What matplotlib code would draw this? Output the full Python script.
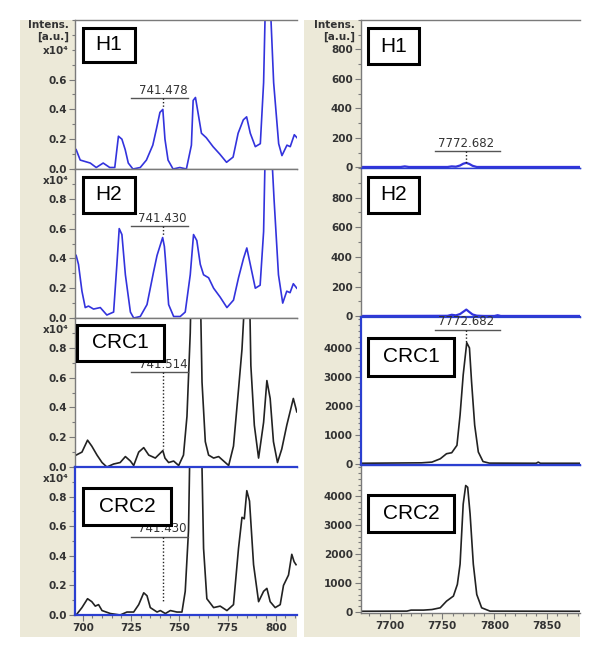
import numpy as np
import matplotlib
matplotlib.use("Agg")
import matplotlib.pyplot as plt
from matplotlib.patches import Rectangle
from matplotlib.ticker import MultipleLocator, FormatStrFormatter

# ---- left column: m/z 700-810, intensity x10^4 ----
h1_mz = [696.6, 698.7, 703.9, 707.0, 710.6, 714.0, 716.6, 718.5, 720.3, 722.0,
         723.6, 726.0, 729.8, 733.0, 736.3, 738.2, 740.0, 741.5, 742.6, 744.2,
         746.8, 750.3, 753.7, 756.3, 757.2, 758.4, 759.7, 761.5, 764.0, 767.5,
         771.0, 774.5, 777.9, 780.5, 783.2, 784.9, 786.8, 789.4, 792.0, 793.7,
         794.6, 795.8, 797.2, 798.9, 801.5, 803.2, 805.8, 807.5, 809.6, 811.0]
h1_int = [0.13, 0.06, 0.04, 0.01, 0.04, 0.01, 0.01, 0.22, 0.20, 0.13,
          0.04, 0.00, 0.01, 0.06, 0.16, 0.27, 0.38, 0.40, 0.20, 0.06,
          0.00, 0.01, 0.00, 0.16, 0.46, 0.48, 0.38, 0.24, 0.21, 0.15,
          0.10, 0.045, 0.08, 0.24, 0.33, 0.35, 0.24, 0.15, 0.17, 0.58,
          1.10, 1.30, 1.10, 0.58, 0.17, 0.09, 0.16, 0.15, 0.23, 0.21]

h2_mz = [696.6, 697.8, 699.6, 701.3, 703.0, 705.6, 709.1, 712.5, 716.0, 717.7,
         718.9, 720.3, 722.1, 724.7, 726.4, 729.8, 733.3, 736.7, 738.5, 741.4,
         742.3, 742.8, 744.5, 747.1, 750.5, 753.1, 755.7, 757.4, 759.1, 760.9,
         762.6, 765.2, 767.8, 771.2, 774.7, 778.1, 780.7, 783.3, 785.0, 786.8,
         789.4, 791.9, 793.7, 794.5, 796.2, 797.9, 799.1, 801.4, 803.6, 805.7,
         807.4, 809.1, 810.9]
h2_int = [0.42, 0.36, 0.18, 0.07, 0.08, 0.06, 0.07, 0.02, 0.04, 0.36,
          0.60, 0.56, 0.29, 0.04, 0.00, 0.01, 0.09, 0.31, 0.42, 0.54,
          0.48, 0.40, 0.09, 0.01, 0.01, 0.04, 0.29, 0.56, 0.52, 0.36,
          0.29, 0.27, 0.20, 0.14, 0.07, 0.12, 0.27, 0.40, 0.47, 0.36,
          0.20, 0.22, 0.58, 1.10, 1.30, 1.10, 0.80, 0.29, 0.10, 0.18,
          0.17, 0.23, 0.20]

crc1_mz = [696.6, 699.6, 702.5, 704.7, 707.4, 710.0, 712.5, 716.0, 719.4, 722.1,
           724.7, 726.4, 729.0, 731.6, 734.2, 737.6, 741.5, 742.6, 744.5, 747.1,
           749.7, 752.2, 754.0, 755.7, 757.1, 758.8, 760.5, 761.8, 763.5, 765.2,
           767.8, 770.4, 773.0, 775.6, 778.1, 780.7, 782.5, 784.2, 785.4, 786.4,
           787.1, 788.9, 791.1, 793.7, 795.4, 797.1, 798.8, 800.9, 803.1, 805.7,
           807.4, 809.1, 810.9]
crc1_int = [0.08, 0.10, 0.18, 0.14, 0.08, 0.03, 0.00, 0.02, 0.03, 0.07,
            0.04, 0.01, 0.10, 0.13, 0.08, 0.06, 0.11, 0.06, 0.03, 0.04,
            0.01, 0.08, 0.34, 0.90, 1.80, 2.00, 1.50, 0.57, 0.17, 0.08,
            0.06, 0.07, 0.04, 0.01, 0.14, 0.52, 0.79, 1.20, 1.40, 1.20,
            0.68, 0.28, 0.06, 0.30, 0.58, 0.46, 0.17, 0.03, 0.12, 0.28,
            0.37, 0.46, 0.37]

crc2_mz = [696.6, 699.6, 702.5, 704.7, 706.5, 708.2, 710.0, 714.3, 719.4, 722.9,
           726.4, 729.0, 731.6, 733.3, 735.0, 738.5, 740.2, 742.8, 745.4, 748.8,
           751.4, 753.1, 754.8, 756.0, 758.3, 760.9, 762.6, 764.3, 767.8, 771.2,
           774.7, 778.1, 780.7, 782.5, 783.7, 785.0, 786.4, 788.5, 791.1, 793.7,
           795.4, 797.1, 799.7, 802.3, 804.0, 806.6, 808.3, 809.5, 810.5]
crc2_int = [0.00, 0.05, 0.11, 0.09, 0.06, 0.07, 0.03, 0.01, 0.00, 0.02,
            0.02, 0.07, 0.15, 0.13, 0.05, 0.02, 0.03, 0.01, 0.03, 0.02,
            0.02, 0.16, 0.57, 1.50, 2.20, 1.60, 0.45, 0.11, 0.05, 0.06,
            0.03, 0.07, 0.45, 0.66, 0.65, 0.84, 0.77, 0.34, 0.09, 0.16,
            0.18, 0.09, 0.05, 0.07, 0.20, 0.27, 0.41, 0.36, 0.34]

# ---- right column: m/z 7672-7882, intensity a.u. ----
rh1_mz = [7672, 7710, 7714, 7718, 7755, 7759, 7763, 7767, 7770, 7773, 7776, 7779, 7783, 7882]
rh1_int = [2, 2, 6, 2, 2, 6, 4, 12, 24, 30, 22, 10, 2, 2]

rh2_mz = [7672, 7755, 7759, 7763, 7767, 7770, 7773, 7776, 7779, 7783, 7790, 7800, 7803, 7806, 7882]
rh2_int = [2, 3, 10, 6, 15, 30, 45, 28, 12, 4, 2, 2, 7, 2, 2]

rcrc1_mz = [7672, 7730, 7740, 7748, 7754, 7759, 7764, 7767, 7770, 7773.4,
            7776, 7778, 7781, 7784.5, 7789, 7795, 7840, 7842, 7844, 7882]
rcrc1_int = [20, 35, 60, 175, 350, 385, 640, 1690, 3080, 4190,
             4010, 2850, 1340, 410, 80, 25, 20, 60, 20, 20]

rcrc2_mz = [7672, 7716, 7720, 7732, 7740, 7748, 7754, 7760.6, 7764.4, 7767,
            7770, 7772.4, 7774.3, 7776.6, 7779.7, 7783, 7787.7, 7795.7, 7882]
rcrc2_int = [20, 25, 60, 60, 80, 140, 370, 545, 950, 1650,
             3730, 4370, 4310, 3390, 1650, 600, 140, 25, 20]

names = ["H1", "H2", "CRC1", "CRC2"]

W, H = 600, 657
BEIGE = "#ECE9D8"
BLUE = "#3333DD"
SEL = "#2B3FD0"
DARK = "#222222"
GRAY = "#7A7A7A"
TXT = "#333333"


def fx(px):
    return px / W


def fy(py):
    return 1 - py / H


def px_rect(x0, y0, x1, y1):
    return [fx(x0), fy(y1), (x1 - x0) / W, (y1 - y0) / H]


fig = plt.figure(figsize=(W / 100, H / 100), dpi=100)
fig.patch.set_facecolor("white")

# beige panels behind the plots
for (x0, x1) in [(20, 297), (304, 580)]:
    fig.add_artist(Rectangle((fx(x0), fy(637)), (x1 - x0) / W, (637 - 20) / H,
                             transform=fig.transFigure, facecolor=BEIGE,
                             edgecolor="none", zorder=-5))

left_rows = [(20, 169), (169, 318), (318, 467), (467, 615)]
right_rows = [(20, 168), (168, 317), (317, 465), (465, 613)]

left_data = [(h1_mz, h1_int), (h2_mz, h2_int), (crc1_mz, crc1_int), (crc2_mz, crc2_int)]
right_data = [(rh1_mz, rh1_int), (rh2_mz, rh2_int), (rcrc1_mz, rcrc1_int), (rcrc2_mz, rcrc2_int)]


def style_axes(ax):
    ax.set_facecolor("white")
    ax.spines["right"].set_visible(False)
    for s in ["left", "top", "bottom"]:
        ax.spines[s].set_color(GRAY)
        ax.spines[s].set_linewidth(1.0)
    ax.tick_params(axis="both", which="major", direction="out", length=4,
                   width=0.8, color=GRAY, pad=2, labelsize=7.5, labelcolor=TXT)
    ax.tick_params(axis="both", which="minor", direction="out", length=2,
                   width=0.8, color=GRAY)
    for lab in ax.get_xticklabels() + ax.get_yticklabels():
        lab.set_fontweight("bold")


def label_box(x0, y0, x1, y1, text):
    fig.add_artist(Rectangle((fx(x0), fy(y1)), (x1 - x0) / W, (y1 - y0) / H,
                             transform=fig.transFigure, facecolor="white",
                             edgecolor="black", linewidth=2.2, zorder=10))
    fig.text(fx((x0 + x1) / 2), fy((y0 + y1) / 2), text, ha="center", va="center",
             fontsize=15, family="Liberation Sans", color="black", zorder=11)


def peak_label(ax, x, text, y_text, y_line, y_peak, x0, x1):
    ax.text(x, y_text, text, ha="center", va="bottom", fontsize=8.5, color=TXT,
            family="DejaVu Sans", clip_on=False)
    ax.plot([x0, x1], [y_line, y_line], color="#555555", lw=1.0)
    ax.plot([x, x], [y_line, y_peak], color=DARK, lw=1.0, ls=(0, (1, 1.5)))


left_axes = []
for i, ((top, bot), (mz, inten)) in enumerate(zip(left_rows, left_data)):
    ax = fig.add_axes(px_rect(75, top, 297, bot))
    color = BLUE if i < 2 else DARK
    ax.plot(mz, inten, color=color, lw=1.2)
    ax.set_xlim(696, 811)
    ax.set_ylim(0, 1.0)
    ax.xaxis.set_major_locator(MultipleLocator(25))
    ax.xaxis.set_minor_locator(MultipleLocator(5))
    ax.yaxis.set_major_formatter(FormatStrFormatter("%.1f"))
    if i == 0:
        ax.set_yticks([0.0, 0.2, 0.4, 0.6])
    else:
        ax.set_yticks([0.0, 0.2, 0.4, 0.6, 0.8])
    ax.yaxis.set_minor_locator(MultipleLocator(0.1))
    if i < 3:
        ax.tick_params(axis="x", which="both", bottom=False, labelbottom=False)
    style_axes(ax)
    left_axes.append(ax)

right_axes = []
for i, ((top, bot), (mz, inten)) in enumerate(zip(right_rows, right_data)):
    ax = fig.add_axes(px_rect(361, top, 580, bot))
    color = BLUE if i < 2 else DARK
    ax.plot(mz, inten, color=color, lw=1.6 if i < 2 else 1.2)
    ax.set_xlim(7672, 7882)
    ax.xaxis.set_major_locator(MultipleLocator(50))
    ax.xaxis.set_minor_locator(MultipleLocator(10))
    if i < 2:
        ax.set_ylim(-5, 1000)
        ax.set_yticks([0, 200, 400, 600, 800])
        ax.yaxis.set_minor_locator(MultipleLocator(100))
    else:
        ax.set_ylim(-40, 5080)
        ax.set_yticks([0, 1000, 2000, 3000, 4000])
        ax.yaxis.set_minor_locator(MultipleLocator(200))
    if i < 3:
        ax.tick_params(axis="x", which="both", bottom=False, labelbottom=False)
    style_axes(ax)
    right_axes.append(ax)

# selection frames (blue) as in the screenshot
for s in ["left", "top", "bottom"]:
    left_axes[3].spines[s].set_color(SEL)
    left_axes[3].spines[s].set_linewidth(1.6)
    right_axes[2].spines[s].set_color(SEL)
    right_axes[2].spines[s].set_linewidth(1.6)
left_axes[2].spines["bottom"].set_color(SEL)
right_axes[0].spines["bottom"].set_color(SEL)
right_axes[1].spines["top"].set_color(SEL)
right_axes[1].spines["bottom"].set_color(SEL)
right_axes[3].spines["top"].set_color(SEL)

# peak labels
peak_label(left_axes[0], 741.5, "741.478", 0.485, 0.476, 0.41, 725.2, 754.7)
peak_label(left_axes[1], 741.4, "741.430", 0.625, 0.617, 0.55, 725.2, 754.7)
peak_label(left_axes[2], 741.5, "741.514", 0.645, 0.637, 0.12, 725.2, 754.7)
peak_label(left_axes[3], 741.4, "741.430", 0.538, 0.530, 0.09, 725.2, 754.7)
peak_label(right_axes[0], 7773, "7772.682", 118, 108, 32, 7743, 7805)
peak_label(right_axes[2], 7773, "7772.682", 4700, 4640, 4200, 7743, 7805)

# y-axis header texts
hdr = dict(ha="right", va="center", fontsize=7.5, fontweight="bold", color=TXT,
           family="DejaVu Sans")
fig.text(fx(69), fy(25), "Intens.", **hdr)
fig.text(fx(69), fy(37), "[a.u.]", **hdr)
fig.text(fx(69), fy(51), "x10⁴", **hdr)
for top in [181, 330, 479]:
    fig.text(fx(69), fy(top), "x10⁴", **hdr)
fig.text(fx(355), fy(25), "Intens.", **hdr)
fig.text(fx(355), fy(37), "[a.u.]", **hdr)

# sample name boxes
label_box(83, 28, 135, 62, "H1")
label_box(83, 177, 135, 213, "H2")
label_box(77, 325, 164, 361, "CRC1")
label_box(83, 488, 171, 525, "CRC2")
label_box(368, 28, 419, 64, "H1")
label_box(368, 177, 419, 213, "H2")
label_box(368, 338, 454, 376, "CRC1")
label_box(368, 495, 454, 532, "CRC2")

fig.savefig("out.png", dpi=100, facecolor="white")
